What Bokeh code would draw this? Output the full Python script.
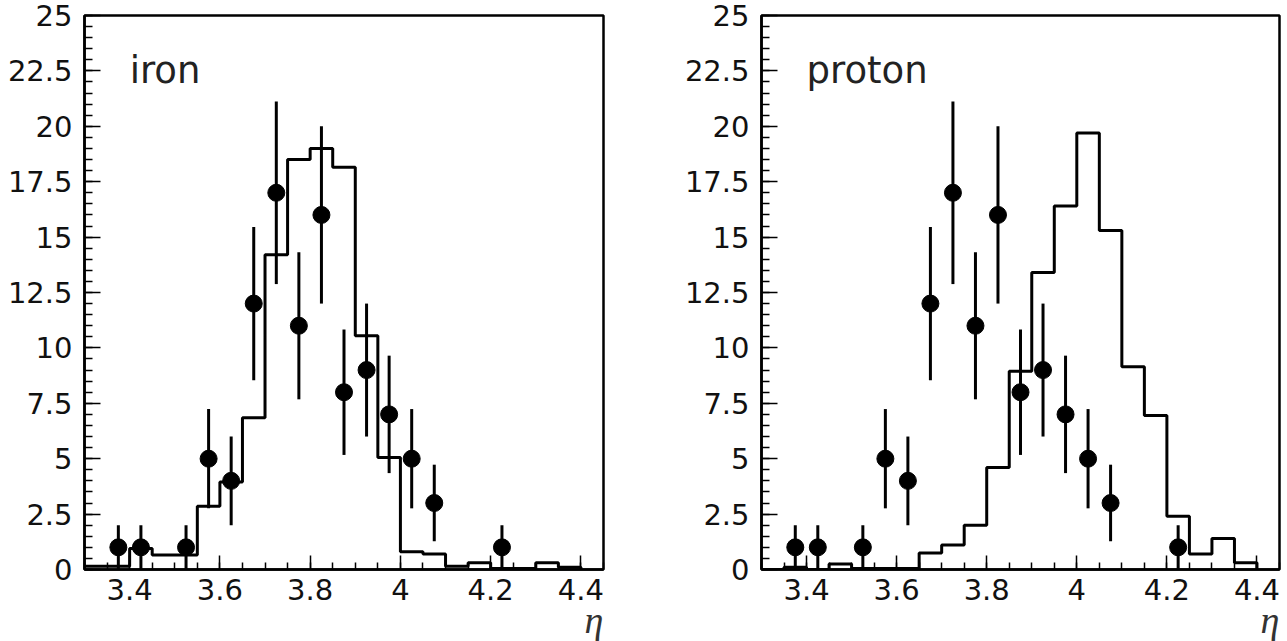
from bokeh.plotting import figure
from bokeh.models import Label, SingleIntervalTicker, CustomJSTickFormatter, Range1d, Title
from bokeh.layouts import row
from bokeh.embed import file_html
from bokeh.resources import INLINE

# histogram bin edges (eta)
bin_edges = [3.30, 3.35, 3.40, 3.45, 3.50, 3.55, 3.60, 3.65, 3.70, 3.75, 3.80, 3.85,
             3.90, 3.95, 4.00, 4.05, 4.10, 4.15, 4.20, 4.25, 4.30, 4.35, 4.40]

# simulated distributions (histogram contents per bin)
iron_hist = [0.15, 0.15, 0.95, 0.65, 0.65, 2.85, 3.95, 6.85, 14.2, 18.5, 19.0, 18.15,
             10.55, 5.05, 0.8, 0.7, 0.15, 0.3, 0.05, 0.05, 0.3, 0.1]
proton_hist = [0.0, 0.1, 0.0, 0.25, 0.05, 0.05, 0.05, 0.75, 1.1, 2.0, 4.6, 8.95,
               13.4, 16.4, 19.7, 15.3, 9.15, 6.95, 2.4, 0.7, 1.4, 0.3]

# measured data points with errors
data_eta = [3.375, 3.425, 3.525, 3.575, 3.625, 3.675, 3.725, 3.775, 3.825, 3.875,
            3.925, 3.975, 4.025, 4.075, 4.225]
data_n = [1, 1, 1, 5, 4, 12, 17, 11, 16, 8, 9, 7, 5, 3, 1]
data_err = [1, 1, 1, 2.24, 2, 3.46, 4.12, 3.32, 4, 2.83, 3, 2.65, 2.24, 1.73, 1]

panel_names = ["iron", "proton"]
x_title = "η"

fmt_code = "return Number(tick.toFixed(3)).toString();"


def make_panel(name, hist, left_border, frame_w, right_border):
    p = figure(frame_width=frame_w, frame_height=554,
               min_border_left=left_border, min_border_right=right_border,
               min_border_top=15, min_border_bottom=66,
               x_range=Range1d(3.3, 4.45), y_range=Range1d(0, 25),
               output_backend="svg", toolbar_location=None)
    p.grid.visible = False
    p.outline_line_color = "black"
    p.outline_line_width = 2.5
    p.background_fill_color = "white"
    p.border_fill_color = "white"

    p.xaxis.ticker = SingleIntervalTicker(interval=0.2, num_minor_ticks=4)
    p.yaxis.ticker = SingleIntervalTicker(interval=2.5, num_minor_ticks=5)
    for ax in (p.xaxis, p.yaxis):
        ax.formatter = CustomJSTickFormatter(code=fmt_code)
        ax.axis_line_width = 2.5
        ax.axis_line_color = "black"
        ax.major_tick_out = 0
        ax.minor_tick_out = 0
        ax.major_tick_line_width = 1.5
        ax.minor_tick_line_width = 1.5
        ax.major_label_text_font = "DejaVu Sans"
        ax.major_label_text_font_size = "29px"
        ax.major_label_text_color = "#111111"
    p.xaxis.major_tick_in = 14
    p.xaxis.minor_tick_in = 7
    p.yaxis.major_tick_in = 16
    p.yaxis.minor_tick_in = 8
    p.yaxis.major_label_standoff = 12
    p.xaxis.major_label_standoff = 9

    # histogram outline
    p.step(x=bin_edges, y=list(hist) + [0], mode="after",
           line_color="black", line_width=3)

    # data points with error bars
    lo = [n - e for n, e in zip(data_n, data_err)]
    hi = [n + e for n, e in zip(data_n, data_err)]
    p.segment(x0=data_eta, y0=lo, x1=data_eta, y1=hi,
              line_color="black", line_width=3)
    p.scatter(x=data_eta, y=data_n, size=17, marker="circle",
              fill_color="black", line_color="black")

    p.add_layout(Label(x=3.4, y=22.5, text=name, text_font="DejaVu Sans",
                       text_font_size="37px", text_color="#222222",
                       text_baseline="alphabetic"))

    xa = p.xaxis[0]
    if "axis_label_align" in xa.properties():
        # centred on the axis end; a trailing en space pushes the glyph left of it
        xa.axis_label = x_title + "\u2002"
        xa.axis_label_align = "end"
        xa.axis_label_standoff = -4
        xa.axis_label_text_font = "Liberation Serif"
        xa.axis_label_text_font_style = "italic"
        xa.axis_label_text_font_size = "38px"
        xa.axis_label_text_color = "#333333"
    else:
        p.add_layout(Title(text=x_title, align="right", standoff=-5,
                           text_font="Liberation Serif", text_font_style="italic",
                           text_font_size="38px", text_color="#333333"), "below")
    return p


p1 = make_panel(panel_names[0], iron_hist, 84, 519, 76)
p2 = make_panel(panel_names[1], proton_hist, 82, 518, 3)

layout = row(p1, p2)
open("out.html", "w").write(file_html(layout, INLINE))
